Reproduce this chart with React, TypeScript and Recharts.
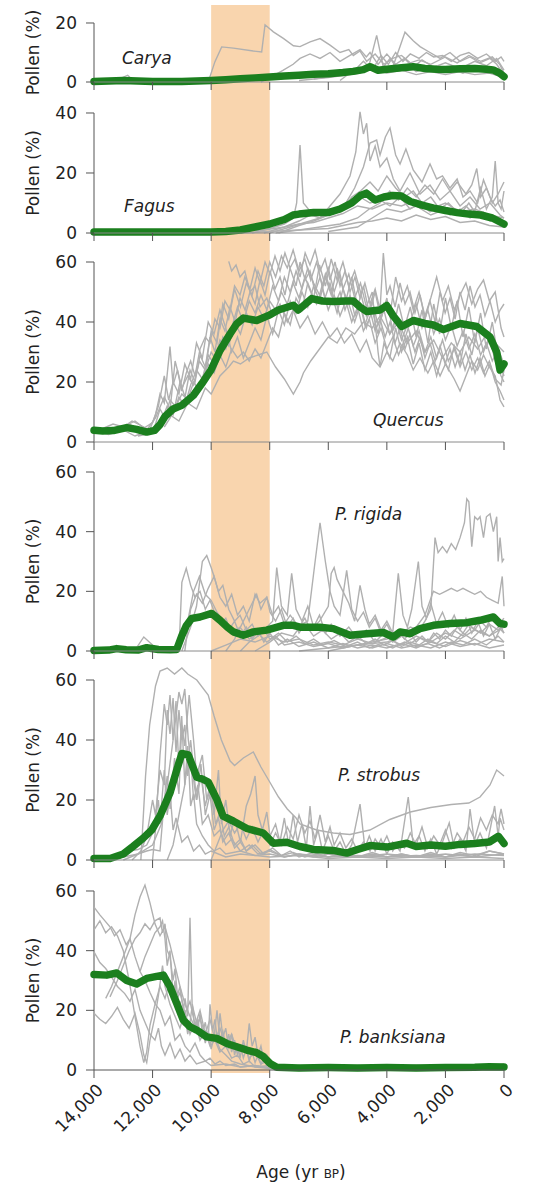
import { LineChart, Line, XAxis, YAxis, ReferenceArea, ReferenceLine, ReferenceDot } from 'recharts';

type Pt = [number, number];

const ageTicks = [14000, 12000, 10000, 8000, 6000, 4000, 2000, 0];
const bandAges = [10000, 8000];

// ---- Carya ----
const caryaMean: Pt[] = [
  [14000, 0.2], [13500, 0.3], [13000, 0.5], [12500, 0.3], [12000, 0.2], [11000, 0.2], [10500, 0.3],
  [10000, 0.5], [9500, 0.8], [9000, 1.1], [8500, 1.4], [8000, 1.7], [7500, 2.0], [7000, 2.3],
  [6500, 2.6], [6000, 2.8], [5500, 3.2], [5150, 3.6], [4800, 4.2], [4575, 5.2], [4300, 4.0],
  [4000, 4.3], [3500, 4.8], [3100, 5.2], [2700, 4.6], [2300, 4.3], [2000, 4.2], [1500, 4.5],
  [1000, 4.6], [600, 4.3], [370, 4.1], [150, 3.0], [0, 1.8],
];
const caryaSites: Pt[][] = [
  [[10100, 0], [9870, 6.9], [9640, 11.9], [9240, 11.5], [8560, 10.5], [8275, 10.2], [8160, 19.4], [7875, 17], [7535, 14.8], [7190, 12.3], [6965, 12], [6620, 13.6], [6282, 14.7], [5940, 12.5], [5600, 10], [5300, 11], [5145, 9], [4916, 10.5], [4690, 7], [4400, 9.5], [4100, 6], [3800, 8], [3500, 9], [3200, 6.5], [2900, 7.5], [2500, 6], [2000, 8.5], [1600, 6.5], [1200, 9], [800, 7], [400, 8.5], [150, 6], [0, 3]],
  [[8300, 0], [7900, 2], [7535, 4], [7200, 6], [6965, 8], [6624, 9.5], [6282, 8], [5941, 10], [5600, 7], [5258, 9], [4916, 11], [4700, 8.5], [4575, 10], [4300, 6], [4000, 9.5], [3700, 6], [3400, 8], [3100, 5], [2800, 7.5], [2400, 5], [2000, 6.5], [1500, 4.5], [1000, 7], [600, 5.5], [250, 8], [0, 4]],
  [[6500, 1], [5800, 2], [5200, 3.5], [4600, 4.5], [4100, 3.5], [3800, 5], [3550, 12], [3380, 16.9], [3100, 14], [2867, 12], [2526, 10], [2184, 8], [1843, 10], [1501, 7], [1160, 8.5], [818, 6.5], [477, 8], [250, 6], [0, 2.5]],
  [[7000, 0.5], [6000, 1.5], [5258, 2.5], [4916, 3], [4600, 6], [4348, 15.8], [4120, 5], [3892, 8], [3600, 4], [3300, 6], [3000, 3.5], [2600, 5], [2200, 3], [1800, 4.5], [1400, 3], [1000, 5], [600, 3.5], [200, 4.5], [0, 2]],
  [[14000, 0], [13300, 0.3], [12850, 2.3], [12650, 0.5], [12000, 0.2], [11000, 0.3], [10000, 0.4], [9000, 0.8], [8000, 1.2], [7000, 1.8], [6000, 2.2], [5000, 3], [4500, 4.5], [4000, 3], [3500, 4], [3000, 2.5], [2500, 3.5], [2000, 2.5], [1500, 3.5], [1000, 2.5], [500, 3], [0, 1.5]],
  [[5600, 0.5], [5000, 5], [4800, 7], [4500, 4], [4200, 9], [3950, 6], [3700, 10], [3450, 7], [3200, 9.5], [2900, 8], [2650, 10], [2400, 8.5], [2100, 9], [1800, 7], [1500, 9], [1200, 10], [900, 8], [600, 9.5], [300, 7], [100, 8.5], [0, 7]],
];

// ---- Fagus ----
const fagusMean: Pt[] = [
  [14000, 0.3], [13000, 0.3], [12000, 0.3], [11000, 0.3], [10000, 0.3], [9500, 0.5], [9000, 1.0],
  [8500, 2.0], [8000, 3.0], [7500, 4.5], [7200, 6.0], [7000, 6.3], [6500, 6.8], [6000, 6.8],
  [5600, 8.0], [5200, 10.0], [4900, 12.5], [4700, 13.3], [4400, 11.0], [4100, 12.0], [3800, 12.5],
  [3500, 12.3], [3200, 10.5], [2800, 9.3], [2400, 8.3], [2000, 7.5], [1600, 6.8], [1200, 6.3],
  [800, 6.0], [400, 5.0], [0, 3.0],
];
const fagusSites: Pt[][] = [
  [[8600, 0], [8000, 1.5], [7500, 3], [7190, 5], [7080, 10], [6965, 29.3], [6850, 10], [6600, 7], [6282, 6], [5941, 8], [5600, 7], [5258, 9], [4916, 12], [4575, 10], [4233, 11], [3892, 9], [3550, 12], [3209, 8], [2867, 10], [2526, 7], [2184, 9], [1843, 6], [1501, 8], [1160, 5], [818, 6.5], [477, 4], [135, 5], [0, 3]],
  [[8200, 0], [7500, 2], [7000, 4], [6600, 6], [6282, 5], [5941, 9], [5600, 13], [5258, 19], [5060, 27], [4916, 40.4], [4800, 33], [4690, 36.6], [4575, 24], [4400, 29], [4233, 22], [4000, 25], [3780, 18], [3550, 14], [3209, 20], [2867, 13], [2526, 16], [2184, 11], [1843, 14], [1501, 9], [1160, 12], [818, 8], [477, 10], [135, 6], [0, 5]],
  [[8000, 0], [7300, 2], [6800, 3.5], [6282, 5], [5800, 7], [5400, 10], [5100, 15], [4800, 22], [4575, 30], [4348, 31], [4233, 26], [4050, 32], [3892, 35], [3700, 26], [3550, 23], [3350, 28], [3100, 21], [2800, 17], [2526, 23], [2300, 18], [2100, 19], [1843, 15], [1600, 18], [1400, 12], [1160, 14], [900, 10], [700, 17.7], [477, 12], [300, 9], [135, 11], [0, 7]],
  [[7800, 0], [7000, 1], [6282, 2], [5600, 3], [5000, 5], [4600, 8], [4233, 10], [3900, 14], [3600, 11], [3300, 15], [3000, 12], [2700, 16], [2400, 13], [2100, 18], [1843, 14], [1600, 17], [1300, 13], [1100, 16], [930, 21.5], [800, 12], [600, 15], [400, 10], [200, 13], [0, 17]],
  [[7700, 0], [7000, 2.5], [6500, 4], [6000, 6], [5500, 8], [5200, 12], [4900, 14], [4575, 17], [4300, 14], [4000, 19], [3700, 15], [3400, 12], [3100, 14], [2800, 10], [2500, 12], [2200, 8], [1900, 10], [1600, 7], [1300, 9], [1000, 6], [700, 7], [400, 5], [0, 4]],
  [[9000, 0], [8000, 0.5], [7000, 1], [6000, 1.5], [5500, 2.5], [5000, 3.5], [4500, 4], [4000, 5], [3500, 4], [3000, 6], [2500, 4.5], [2000, 5.5], [1500, 3.5], [1000, 4], [500, 2.5], [0, 2]],
  [[6000, 0.5], [5000, 2], [4500, 5], [4000, 8], [3500, 7], [3000, 9], [2500, 6], [2000, 8], [1500, 6], [1200, 10], [1000, 7], [800, 15], [600, 8], [400, 12], [300, 24], [200, 10], [100, 8], [0, 14]],
  [[14000, 0.2], [12000, 0.2], [10000, 0.3], [9000, 0.6], [8200, 1], [7500, 2], [7000, 3], [6500, 3.5], [6000, 5], [5500, 6.5], [5000, 9], [4500, 8], [4000, 10], [3500, 9], [3000, 11], [2500, 8], [2000, 10], [1500, 7], [1000, 8], [500, 6], [0, 5]],
];

// ---- Quercus ----
const quercusMean: Pt[] = [
  [14000, 3.9], [13700, 3.7], [13340, 3.8], [12884, 4.8], [12542, 4.2], [12200, 3.3], [11930, 3.9],
  [11746, 5.8], [11576, 8.5], [11300, 11], [11005, 12.2], [10609, 15.5], [10322, 19.4], [10005, 24],
  [9697, 30.5], [9356, 36], [9128, 39.4], [8900, 41.3], [8445, 40.5], [8035, 42.2], [7705, 44],
  [7193, 45.6], [7023, 44], [6566, 47.8], [6200, 47], [5828, 46.8], [5400, 47], [5145, 47],
  [4916, 45], [4690, 43.5], [4233, 44], [4005, 45.5], [3778, 42], [3493, 38.5], [3095, 40.5],
  [2700, 39.5], [2412, 39], [2070, 37.5], [1501, 39.5], [932, 38.5], [477, 35], [250, 30],
  [135, 24], [0, 26],
];
const quercusSites: Pt[][] = [
  [[14000, 3], [13700, 4.5], [13350, 6], [13000, 5], [12700, 7], [12400, 5.5], [12100, 4], [11900, 9], [11746, 16], [11600, 13], [11405, 31.8], [11300, 19], [11150, 24], [11005, 17], [10850, 23], [10700, 27], [10550, 22], [10380, 31], [10200, 35], [10039, 33], [9870, 41], [9697, 38], [9530, 47], [9356, 44], [9200, 52], [9014, 49], [8850, 55], [8673, 51], [8500, 58], [8331, 53], [8160, 60], [7990, 56], [7820, 62], [7648, 57], [7480, 63], [7307, 58], [7140, 61], [6965, 55], [6790, 63], [6624, 59], [6450, 64], [6282, 57], [6110, 61], [5941, 54], [5770, 60], [5599, 52], [5430, 57], [5258, 50], [5090, 55], [4916, 48], [4750, 53], [4575, 46], [4400, 51], [4233, 44], [4120, 63], [4000, 49], [3892, 52], [3720, 45], [3550, 53], [3380, 46], [3209, 50], [3040, 43], [2867, 49], [2700, 41], [2526, 47], [2350, 40], [2184, 50], [2010, 43], [1843, 48], [1670, 41], [1501, 50], [1330, 44], [1160, 52], [990, 45], [818, 49], [650, 42], [477, 47], [300, 40], [135, 44], [0, 46]],
  [[14000, 4], [13500, 2.5], [13000, 4], [12600, 2], [12200, 3.5], [11930, 5], [11746, 11], [11576, 8], [11405, 14], [11234, 12], [11063, 20], [10892, 15], [10722, 24], [10550, 20], [10380, 29], [10200, 25], [10039, 35], [9870, 30], [9697, 41], [9530, 37], [9356, 45], [9180, 40], [9014, 48], [8840, 44], [8673, 50], [8500, 46], [8331, 54], [8160, 49], [7990, 57], [7820, 51], [7648, 55], [7480, 49], [7307, 58], [7100, 52], [6965, 60], [6790, 54], [6624, 57], [6450, 50], [6282, 55], [6110, 48], [5941, 53], [5770, 46], [5599, 50], [5430, 44], [5258, 49], [5090, 42], [4916, 46], [4750, 39], [4575, 44], [4400, 37], [4233, 41], [4060, 35], [3892, 40], [3720, 33], [3550, 38], [3380, 31], [3209, 36], [3040, 30], [2867, 35], [2700, 28], [2526, 33], [2350, 27], [2184, 32], [2010, 26], [1843, 31], [1670, 25], [1501, 30], [1330, 24], [1160, 29], [990, 23], [818, 28], [650, 22], [477, 26], [300, 20], [135, 17], [0, 14]],
  [[9400, 60.2], [9300, 57], [9150, 59], [9014, 55], [8850, 57], [8673, 50], [8500, 52], [8331, 45], [8100, 48], [7900, 42], [7648, 46], [7400, 40], [7200, 44], [6965, 38], [6700, 42], [6450, 36], [6200, 40], [5941, 35], [5700, 38], [5450, 33], [5200, 36], [4916, 30], [4700, 34], [4500, 28], [4233, 25], [4000, 30], [3800, 27], [3550, 33], [3300, 29], [3100, 24], [2867, 28], [2600, 23], [2400, 27], [2184, 22], [2000, 26], [1700, 21], [1501, 17], [1300, 22], [1100, 27], [900, 24], [700, 29], [500, 25], [300, 22], [135, 14], [0, 11.7]],
  [[12500, 2], [12000, 3], [11700, 6], [11400, 9], [11100, 7], [10800, 13], [10500, 11], [10200, 18], [10000, 16], [9700, 22], [9400, 25], [9240, 27], [9000, 26], [8700, 28], [8400, 29], [8100, 30], [7800, 25], [7500, 21], [7193, 16], [6965, 20], [6850, 23], [6600, 27], [6300, 31], [6000, 35], [5700, 33], [5400, 38], [5100, 36], [4800, 40], [4500, 38], [4233, 42], [3900, 36], [3600, 40], [3300, 33], [3000, 37], [2700, 30], [2400, 34], [2100, 28], [1800, 33], [1500, 30], [1200, 35], [900, 31], [600, 36], [300, 33], [0, 30]],
  [[13000, 5], [12600, 7], [12200, 4], [11900, 8], [11600, 15], [11400, 11], [11230, 27], [11000, 18], [10800, 22], [10600, 19], [10400, 27], [10200, 24], [10000, 37], [9800, 33], [9600, 46], [9400, 41], [9200, 51], [9000, 45], [8800, 53], [8600, 49], [8400, 57], [8200, 52], [8000, 60], [7800, 55], [7600, 62], [7400, 58], [7200, 64], [7000, 57], [6800, 61], [6600, 54], [6400, 60], [6200, 52], [6000, 58], [5800, 50], [5600, 56], [5400, 47], [5200, 55], [5000, 45], [4800, 52], [4600, 43], [4400, 50], [4200, 41], [4000, 48], [3800, 37], [3600, 46], [3400, 38], [3200, 45], [3000, 35], [2800, 44], [2600, 33], [2400, 46], [2200, 36], [2000, 48], [1800, 38], [1600, 47], [1400, 35], [1200, 45], [1000, 33], [800, 43], [600, 31], [400, 40], [200, 28], [0, 22]],
  [[12800, 6], [12400, 4], [12000, 6.5], [11800, 12], [11600, 22], [11450, 14], [11300, 20], [11100, 16], [10900, 26], [10700, 21], [10500, 33], [10300, 28], [10100, 40], [9900, 36], [9700, 44], [9500, 38], [9300, 30], [9100, 35], [8900, 28], [8700, 33], [8500, 38], [8300, 34], [8100, 42], [7900, 36], [7700, 44], [7500, 39], [7300, 47], [7100, 43], [6900, 50], [6700, 45], [6500, 52], [6300, 47], [6100, 55], [5900, 49], [5700, 58], [5500, 51], [5300, 56], [5100, 48], [4900, 53], [4700, 45], [4500, 50], [4300, 30], [4233, 25], [4100, 33], [3900, 28], [3700, 38], [3500, 30], [3300, 35], [3100, 26], [2900, 33], [2700, 24], [2500, 30], [2300, 22], [2100, 29], [1900, 24], [1700, 32], [1501, 26], [1300, 36], [1100, 29], [900, 38], [700, 30], [500, 35], [300, 27], [100, 22], [0, 20]],
  [[11900, 3], [11700, 7], [11500, 12], [11300, 9], [11100, 15], [10900, 12], [10700, 19], [10500, 24], [10300, 21], [10100, 29], [9900, 26], [9700, 34], [9500, 31], [9300, 38], [9100, 45], [8900, 40], [8700, 47], [8500, 43], [8300, 49], [8100, 44], [7900, 52], [7700, 47], [7500, 55], [7300, 50], [7100, 57], [6900, 51], [6700, 58], [6500, 53], [6300, 49], [6100, 56], [5900, 50], [5700, 43], [5500, 51], [5300, 46], [5100, 40], [4900, 46], [4700, 38], [4500, 44], [4300, 36], [4100, 46], [3900, 42], [3700, 55], [3500, 47], [3300, 52], [3100, 44], [2900, 50], [2700, 42], [2500, 48], [2300, 55], [2100, 47], [1900, 52], [1700, 44], [1500, 49], [1300, 53], [1100, 46], [900, 51], [700, 54], [500, 47], [300, 50], [100, 38], [0, 35]],
  [[10300, 20], [10100, 26], [9900, 23], [9700, 29], [9500, 25], [9300, 31], [9100, 28], [8900, 30], [8700, 27], [8500, 31], [8300, 28], [8100, 33], [7900, 38], [7700, 35], [7500, 43], [7300, 39], [7100, 48], [6900, 44], [6700, 53], [6500, 48], [6300, 59], [6100, 52], [5900, 61], [5700, 54], [5500, 60], [5300, 52], [5100, 57], [4900, 50], [4700, 42], [4500, 47], [4300, 39], [4100, 44], [3900, 36], [3700, 41], [3500, 34], [3300, 39], [3100, 32], [2900, 37], [2700, 30], [2500, 35], [2300, 28], [2100, 34], [1900, 27], [1700, 31], [1500, 25], [1300, 30], [1100, 24], [900, 28], [700, 23], [500, 27], [300, 21], [100, 19], [0, 24]],
  [[11600, 5], [11400, 8], [11200, 12], [11000, 16], [10800, 14], [10600, 20], [10400, 17], [10200, 24], [10000, 30], [9800, 27], [9600, 35], [9400, 32], [9200, 40], [9000, 36], [8800, 43], [8600, 39], [8400, 45], [8200, 41], [8000, 47], [7800, 44], [7600, 50], [7400, 46], [7200, 53], [7000, 48], [6800, 55], [6600, 50], [6400, 46], [6200, 51], [6000, 44], [5800, 49], [5600, 42], [5400, 47], [5200, 40], [5000, 45], [4800, 37], [4600, 41], [4400, 33], [4200, 38], [4000, 31], [3800, 35], [3600, 29], [3400, 34], [3200, 40], [3000, 46], [2800, 38], [2600, 44], [2400, 36], [2200, 41], [2000, 34], [1800, 39], [1600, 32], [1400, 37], [1200, 31], [1000, 36], [800, 29], [600, 33], [400, 27], [200, 31], [0, 26]],
];

// ---- P. rigida ----
const rigidaMean: Pt[] = [
  [14000, 0.2], [13500, 0.3], [13225, 0.8], [12900, 0.4], [12500, 0.3], [12200, 1.1], [11800, 0.5],
  [11400, 0.4], [11176, 0.5], [11005, 5], [10850, 8.5], [10665, 10.9], [10380, 11.4], [9983, 12.6],
  [9697, 10.3], [9450, 8], [9242, 6.4], [8901, 5.3], [8559, 6.4], [8104, 7], [7535, 8.6], [7193, 8.6],
  [6965, 8], [6282, 8], [5828, 7.5], [5258, 5.3], [4690, 5.8], [4120, 6.2], [3778, 4.7], [3550, 6.4],
  [3209, 5.8], [2867, 7.5], [2412, 8.6], [1843, 9.2], [1274, 9.5], [818, 10.3], [363, 11.4],
  [135, 9.2], [0, 9],
];
const rigidaSites: Pt[][] = [
  [[11100, 0], [11000, 23], [10850, 27.7], [10700, 22], [10550, 18], [10380, 20], [10200, 14], [10039, 17], [9850, 12], [9697, 9], [9500, 11], [9300, 6], [9014, 8], [8700, 4], [8400, 6], [8100, 3], [7800, 5], [7500, 2], [7000, 3], [6500, 1.5], [6000, 2.5], [5500, 1], [5000, 2], [4500, 1], [4000, 2.5], [3500, 1], [3000, 2], [2500, 1], [2000, 3], [1500, 1.5], [1000, 2.5], [500, 1], [0, 2]],
  [[11000, 0], [10700, 8], [10500, 15], [10300, 30], [10150, 32], [10000, 28], [9900, 25], [9750, 20], [9600, 22], [9400, 14], [9200, 10], [9014, 12], [8800, 7], [8600, 9], [8400, 5], [8200, 7], [7990, 4], [7700, 6], [7400, 3], [7100, 5], [6800, 2.5], [6500, 4], [6200, 2], [5800, 3.5], [5400, 1.5], [5000, 3], [4600, 1], [4200, 2.5], [3800, 1], [3400, 3], [3000, 1.5], [2600, 2.5], [2200, 1], [1800, 3], [1400, 2], [1000, 4], [600, 2], [200, 5], [0, 3]],
  [[10900, 0], [10700, 14], [10500, 19], [10300, 16], [10100, 21], [9900, 25], [9700, 18], [9500, 15], [9300, 19], [9100, 12], [8900, 15], [8700, 10], [8500, 19], [8331, 16], [8100, 18], [7990, 13], [7800, 10], [7600, 14], [7400, 8], [7200, 11], [7000, 6], [6800, 9], [6500, 5], [6200, 7], [5900, 4], [5600, 6], [5300, 3], [5000, 5], [4700, 2.5], [4400, 4], [4100, 2], [3800, 3.5], [3500, 1.5], [3200, 3], [2900, 2], [2600, 4], [2300, 2.5], [2000, 5], [1700, 3], [1400, 6], [1100, 4], [800, 7], [500, 5], [200, 8], [0, 6]],
  [[9000, 0], [8700, 3], [8400, 5], [8100, 8], [7900, 10], [7760, 28], [7600, 15], [7400, 12], [7250, 26], [7100, 14], [6900, 10], [6700, 15], [6500, 8], [6300, 12], [6100, 6], [5900, 9], [5600, 5], [5300, 8], [5000, 4], [4700, 7], [4400, 3], [4100, 6], [3800, 3], [3500, 5], [3200, 2.5], [2900, 4.5], [2600, 3], [2300, 6], [2000, 4], [1700, 7], [1400, 5], [1100, 8], [800, 6], [500, 9], [200, 7], [0, 9]],
  [[8500, 0], [8000, 3], [7600, 6], [7200, 5], [6900, 9], [6700, 10], [6450, 30], [6282, 43], [6100, 30], [5941, 20], [5800, 15], [5600, 12], [5372, 27], [5200, 14], [5000, 10], [4800, 13], [4600, 8], [4400, 11], [4200, 6], [4000, 9], [3800, 5], [3600, 7], [3400, 4], [3200, 6], [3000, 3], [2800, 5], [2600, 3], [2400, 6], [2200, 4], [2000, 7], [1800, 5], [1600, 8], [1400, 6], [1200, 9], [1000, 7], [800, 10], [600, 8], [400, 12], [200, 9], [0, 11]],
  [[9500, 0], [9200, 4], [9000, 8], [8800, 12], [8600, 16], [8445, 19], [8300, 14], [8100, 18], [7900, 12], [7700, 15], [7500, 9], [7300, 12], [7000, 8], [6800, 11], [6600, 7], [6300, 10], [6000, 15], [5900, 26], [5800, 28], [5700, 24], [5500, 20], [5300, 16], [5100, 10], [4916, 22], [4750, 14], [4600, 9], [4400, 12], [4200, 7], [4000, 10], [3800, 6], [3610, 26], [3450, 12], [3300, 8], [3150, 14], [2925, 30], [2800, 15], [2650, 11], [2500, 16], [2300, 9], [2100, 13], [1900, 8], [1700, 12], [1500, 7], [1300, 11], [1100, 6], [900, 10], [700, 5], [500, 9], [300, 4], [100, 8], [0, 6]],
  [[6000, 0], [5500, 1], [5000, 2], [4500, 3], [4000, 4], [3500, 6], [3200, 8], [2900, 7], [2700, 10], [2500, 14], [2355, 38], [2250, 33], [2100, 35], [1950, 33], [1800, 36], [1650, 34], [1500, 38], [1350, 43], [1270, 51], [1200, 50], [1100, 35], [1000, 45], [900, 44], [818, 45], [700, 38], [600, 45], [477, 46], [363, 40], [250, 45], [200, 30], [135, 38], [60, 30], [0, 31]],
  [[7000, 0], [6000, 1], [5000, 2], [4000, 3], [3500, 5], [3000, 8], [2700, 12], [2412, 20], [2200, 19], [2000, 20], [1800, 21], [1600, 20], [1400, 21], [1200, 20], [1000, 19], [800, 20], [600, 18], [400, 17], [200, 16], [60, 25], [0, 15]],
  [[10000, 0], [9500, 2], [9000, 4], [8500, 3], [8000, 5], [7500, 3], [7000, 4], [6500, 2], [6000, 3], [5500, 2], [5000, 4], [4500, 2.5], [4000, 4.5], [3500, 2], [3000, 5], [2500, 3], [2000, 6], [1500, 4], [1000, 7], [500, 5], [0, 8]],
  [[14000, 0], [13000, 0], [12600, 0.3], [12300, 4.7], [12000, 2], [11800, 0.5], [11500, 0.3], [11200, 0.5], [11000, 3], [10800, 10], [10600, 20], [10400, 25], [10200, 19], [10000, 17], [9800, 13], [9600, 10], [9400, 7], [9200, 10], [9000, 5], [8800, 8], [8600, 4], [8400, 7], [8200, 3], [8000, 6], [7700, 2], [7400, 4], [7000, 1.5], [6500, 3], [6000, 1], [5500, 2.5], [5000, 1], [4500, 2], [4000, 1], [3500, 2.5], [3000, 1], [2500, 3], [2000, 1.5], [1500, 3.5], [1000, 2], [500, 4], [0, 3]],
];

// ---- P. strobus ----
const strobusMean: Pt[] = [
  [14000, 0.5], [13450, 0.5], [13000, 2.0], [12670, 4.5], [12320, 7.3], [12030, 10.0], [11750, 14.6],
  [11400, 22.5], [11175, 30.0], [11000, 35.5], [10780, 35.0], [10490, 27.6], [10300, 27.0],
  [10100, 26.0], [9810, 20.3], [9590, 14.6], [9250, 13.0], [8780, 10.5], [8220, 9.0], [7880, 5.6],
  [7420, 5.9], [6970, 4.5], [6500, 3.5], [5830, 3.2], [5370, 2.3], [5000, 3.5], [4575, 4.8],
  [4000, 4.3], [3320, 5.6], [3000, 4.5], [2500, 5.0], [2000, 4.6], [1500, 5.2], [1000, 5.5],
  [500, 6.0], [190, 7.9], [0, 5.5],
];
const strobusSites: Pt[][] = [
  [[12400, 0], [12240, 28], [12100, 45], [11900, 58], [11746, 63], [11500, 64], [11250, 62], [11000, 64], [10800, 62], [10490, 60], [10100, 55], [9900, 48], [9650, 40], [9350, 33], [9200, 31.5], [8900, 34], [8560, 36], [8300, 31], [8000, 26], [7700, 21], [7400, 17], [7100, 14], [6965, 12], [6400, 10], [5830, 9], [5260, 8.5], [4580, 10], [3900, 13.5], [3200, 16], [2500, 17.5], [1800, 18.5], [1200, 19], [818, 21], [477, 25], [250, 30], [0, 28]],
  [[12000, 0], [11900, 10], [11746, 35], [11600, 52], [11500, 45], [11405, 55], [11300, 40], [11200, 53], [11100, 30], [11005, 48], [10900, 25], [10800, 38], [10700, 18], [10600, 22], [10495, 12], [10300, 8], [10100, 5], [9900, 3], [9700, 4], [9500, 2], [9000, 3], [8500, 1.5], [8000, 2], [7500, 1], [7000, 2], [6000, 1], [5000, 1.5], [4000, 1], [3000, 1.5], [2000, 1], [1000, 2], [0, 1.5]],
  [[12700, 0], [12400, 3], [12200, 8], [12000, 20], [11900, 15], [11746, 30], [11600, 25], [11500, 50], [11405, 42], [11300, 54], [11200, 36], [11100, 50], [11005, 40], [10900, 45], [10800, 28], [10700, 35], [10600, 20], [10450, 25], [10300, 12], [10100, 15], [9900, 8], [9700, 10], [9500, 5], [9300, 7], [9000, 3], [8700, 5], [8400, 2], [8000, 3], [7500, 1], [7000, 2], [6500, 1], [6000, 2], [5000, 1], [4000, 2], [3000, 1], [2000, 2], [1000, 1], [0, 2]],
  [[13000, 0], [12500, 2], [12000, 5], [11700, 12], [11500, 25], [11300, 40], [11100, 56], [11000, 52], [10900, 57], [10780, 40], [10650, 30], [10500, 20], [10350, 32], [10200, 15], [10039, 22], [9900, 10], [9750, 14], [9600, 6], [9400, 9], [9200, 4], [9000, 6], [8800, 3], [8500, 5], [8200, 2], [7900, 4], [7600, 1.5], [7300, 3], [7000, 1], [6500, 2.5], [6000, 1], [5500, 2], [5000, 1], [4500, 2.5], [4000, 1], [3500, 2], [3000, 1], [2500, 2.5], [2000, 1], [1500, 2], [1000, 1], [500, 3], [0, 2]],
  [[11500, 0], [11300, 5], [11100, 15], [10900, 25], [10700, 40], [10600, 30], [10495, 20], [10350, 28], [10200, 18], [10039, 25], [9900, 15], [9750, 30], [9650, 12], [9500, 20], [9350, 8], [9200, 14], [9000, 6], [8800, 18], [8650, 22], [8500, 28], [8400, 15], [8250, 10], [8100, 16], [7990, 8], [7800, 12], [7650, 6], [7500, 14], [7350, 5], [7200, 15], [7050, 6], [6900, 12], [6750, 4], [6624, 18], [6500, 5], [6350, 10], [6200, 3], [6000, 8], [5800, 3], [5600, 6], [5400, 2], [5200, 5], [4916, 18.6], [4750, 4], [4600, 8], [4400, 3], [4200, 7], [4000, 2], [3800, 6], [3550, 3], [3270, 21], [3100, 5], [2900, 8], [2700, 3], [2500, 7], [2300, 2], [2100, 6], [1870, 12.4], [1700, 4], [1500, 7], [1300, 3], [1160, 17], [1000, 5], [818, 9], [600, 4], [477, 10], [320, 18], [200, 8], [135, 14], [0, 10]],
  [[13500, 0], [13000, 1], [12500, 2], [12200, 3], [12000, 3.5], [11746, 3], [11600, 20], [11500, 28], [11400, 17], [11250, 34], [11100, 22], [11005, 45], [10900, 38], [10750, 55], [10600, 40], [10495, 28], [10300, 35], [10150, 20], [10000, 24], [9850, 12], [9697, 16], [9550, 8], [9400, 11], [9200, 5], [9000, 7], [8800, 3], [8600, 5], [8300, 2], [8000, 3.5], [7600, 1.5], [7200, 2.5], [6800, 1], [6400, 2], [6000, 1], [5500, 2], [5000, 1], [4500, 2], [4000, 1], [3500, 2], [3000, 1], [2500, 2], [2000, 1], [1500, 2.5], [1000, 1.5], [500, 3], [0, 2]],
  [[10000, 0], [9800, 5], [9600, 10], [9400, 13], [9200, 9], [9000, 12], [8800, 7], [8600, 11], [8400, 6], [8200, 10], [7990, 5], [7800, 9], [7600, 5], [7400, 11], [7200, 7], [7000, 15], [6800, 9], [6624, 13], [6450, 7], [6282, 15], [6100, 6], [5941, 11], [5800, 5], [5600, 9], [5400, 4], [5200, 7], [5000, 3], [4800, 6], [4575, 3], [4400, 7], [4200, 4], [4000, 8], [3800, 3], [3600, 6], [3400, 4], [3200, 9], [3000, 5], [2800, 11], [2600, 4], [2400, 8], [2200, 5], [2000, 10], [1800, 4], [1600, 9], [1400, 6], [1200, 11], [1000, 7], [800, 14], [600, 10], [400, 15], [200, 12], [100, 17], [0, 12]],
  [[14000, 0], [13600, 0.5], [13200, 1.5], [12800, 3], [12500, 3.5], [12200, 5], [12000, 9], [11800, 20], [11746, 12], [11600, 30], [11500, 15], [11400, 22], [11300, 10], [11200, 14], [11000, 6], [10800, 8], [10600, 3], [10400, 5], [10200, 2], [10000, 3], [9500, 1], [9000, 2], [8000, 1], [7000, 1.5], [6000, 0.5], [5000, 1], [4000, 0.5], [3000, 1], [2000, 0.5], [1000, 1], [0, 0.5]],
];

// ---- P. banksiana ----
const banksianaMean: Pt[] = [
  [14000, 32], [13566, 31.8], [13225, 32.5], [12884, 30], [12542, 28.8], [12200, 30.7], [11859, 31.4],
  [11632, 31.8], [11405, 27.9], [11176, 22.3], [10950, 16.7], [10722, 14.5], [10495, 13.4],
  [10153, 11.1], [9810, 10.6], [9469, 8.9], [9128, 7.8], [8786, 6.7], [8445, 5.8], [8218, 4.5],
  [7990, 2.2], [7760, 0.9], [7000, 0.7], [6000, 0.8], [5000, 0.7], [4000, 0.8], [3000, 0.7],
  [2000, 0.8], [1000, 0.9], [500, 1.1], [0, 1],
];
const banksianaSites: Pt[][] = [
  [[14000, 54.6], [13800, 52], [13454, 48], [13300, 45], [13112, 47], [12900, 42], [12771, 44], [12600, 38], [12429, 33], [12260, 30], [12088, 26], [11900, 22], [11746, 20], [11576, 15], [11405, 18], [11234, 10], [11063, 12], [10892, 8], [10722, 6], [10550, 9], [10380, 5], [10200, 3], [10039, 4], [9870, 2], [9700, 3], [9500, 1.5], [9200, 2], [9000, 1], [8500, 1.5], [8000, 0.8], [7500, 0.5], [6500, 0.8], [5500, 0.5], [4500, 1], [3500, 0.6], [2500, 1], [1500, 0.6], [500, 1], [0, 0.8]],
  [[13600, 24], [13400, 28], [13200, 33], [13000, 38], [12771, 44], [12600, 52], [12429, 58], [12260, 62], [12088, 56], [11918, 49], [11746, 45], [11576, 48], [11405, 42], [11234, 35], [11063, 28], [10892, 22], [10722, 18], [10550, 14], [10380, 17], [10200, 12], [10039, 9], [9870, 11], [9700, 7], [9500, 5], [9300, 3], [9000, 2], [8500, 1], [8000, 0.5], [7000, 0.8], [6000, 0.5], [5000, 0.8], [4000, 1], [3000, 0.6], [2000, 0.8], [1000, 0.6], [0, 1]],
  [[14000, 39.6], [13800, 36], [13600, 34], [13454, 32], [13200, 28], [12950, 25.6], [12771, 23], [12600, 27], [12429, 20], [12260, 16], [12088, 12], [11918, 10], [11800, 14], [11700, 8], [11576, 5], [11405, 9], [11234, 4], [11063, 7], [10892, 3], [10722, 5], [10500, 2], [10200, 3], [10000, 1.5], [9500, 2], [9000, 1], [8500, 1.5], [8000, 0.5], [7000, 0.8], [6000, 0.5], [5000, 0.8], [4000, 0.5], [3000, 1], [2000, 0.6], [1000, 1], [0, 0.5]],
  [[14000, 19], [13800, 17], [13600, 15.6], [13400, 18], [13200, 21], [13000, 17], [12800, 14], [12600, 19], [12429, 12], [12300, 5], [12200, 2.5], [12088, 10], [11918, 18], [11800, 25], [11660, 35], [11576, 28], [11405, 22], [11234, 18], [11063, 14], [10892, 20], [10722, 12], [10550, 16], [10380, 10], [10200, 13], [10039, 8], [9870, 10], [9700, 6], [9500, 8], [9300, 4], [9100, 5], [8900, 2], [8700, 3], [8500, 1], [8000, 1.5], [7500, 0.5], [6500, 1], [5500, 0.5], [4500, 1.5], [3500, 0.8], [2500, 1], [1500, 0.5], [500, 1.5], [0, 1]],
  [[13454, 24.5], [13200, 30], [13000, 35], [12800, 40], [12600, 44], [12429, 46], [12260, 49], [12088, 47], [11918, 50], [11746, 51], [11660, 46], [11576, 49], [11500, 40], [11405, 38], [11300, 30], [11234, 34], [11150, 25], [11063, 28], [10950, 20], [10892, 24], [10800, 18], [10722, 51], [10650, 22], [10550, 18], [10450, 14], [10380, 19], [10300, 12], [10200, 16], [10100, 10], [10039, 22], [9950, 13], [9870, 17], [9780, 9], [9697, 19], [9600, 11], [9500, 14], [9400, 7], [9300, 12], [9200, 5], [9100, 9], [9014, 4], [8900, 10], [8800, 6], [8700, 15.6], [8600, 8], [8500, 11], [8400, 5], [8300, 8], [8200, 3], [8100, 5], [7990, 1.5], [7800, 2], [7600, 0.8], [7000, 1.2], [6000, 0.6], [5000, 1.5], [4000, 0.8], [3000, 1.6], [2000, 0.7], [1000, 1.2], [0, 1.8]],
  [[12429, 33], [12260, 38], [12088, 42], [11918, 46], [11746, 48], [11660, 50], [11576, 44], [11500, 35], [11405, 40], [11300, 25], [11234, 30], [11150, 20], [11063, 23], [10950, 15], [10892, 18], [10800, 12], [10722, 16], [10640, 22], [10550, 13], [10450, 17], [10380, 11], [10300, 14], [10200, 9], [10100, 13], [10000, 7], [9900, 11], [9800, 20], [9700, 10], [9600, 13], [9500, 8], [9400, 12], [9300, 6], [9200, 10], [9100, 5], [9000, 8], [8900, 4], [8800, 7], [8700, 3], [8600, 6], [8500, 2.5], [8400, 5], [8300, 2], [8200, 4], [8100, 1.5], [8000, 3], [7900, 1], [7500, 0.5], [6500, 1], [5500, 0.4], [4500, 1.2], [3500, 0.5], [2500, 1], [1500, 0.5], [500, 1.5], [0, 0.8]],
  [[14000, 47], [13800, 50], [13600, 46], [13400, 48], [13200, 45], [13000, 40], [12800, 30], [12600, 18], [12429, 8], [12300, 2.5], [12200, 6], [12088, 15], [11918, 22], [11746, 28], [11576, 24], [11405, 30], [11234, 22], [11063, 26], [10892, 19], [10722, 23], [10550, 15], [10380, 20], [10200, 12], [10039, 17], [9870, 10], [9697, 14], [9500, 8], [9300, 12], [9100, 6], [8900, 9], [8700, 4], [8500, 6], [8300, 2], [8100, 3], [7900, 1], [7500, 0.5], [7000, 1.5], [6500, 0.8], [6000, 1.2], [5500, 0.5], [5000, 1], [4500, 0.5], [4000, 1.5], [3500, 0.8], [3000, 1.2], [2500, 0.5], [2000, 1], [1500, 0.6], [1000, 1.4], [500, 0.7], [0, 2]],
];

const FONT = 'DejaVu Sans';
const TEXT = '#222';
const AXIS = '#555';
const GREY = '#b0b0b0';
const GREEN = '#1b7f1e';
const BAND = '#f9d5ae';

type Panel = {
  taxon: string;
  mean: Pt[];
  sites: Pt[][];
  yTicks: number[];
  labelAt: Pt;
  height: number;
  axisH: number;
  domTop: number;
};

const panels: Panel[] = [
  { taxon: 'Carya', mean: caryaMean, sites: caryaSites, yTicks: [0, 20], labelAt: [13044, 8.3], height: 92, axisH: 15, domTop: 26.1 },
  { taxon: 'Fagus', mean: fagusMean, sites: fagusSites, yTicks: [0, 20, 40], labelAt: [12975, 9], height: 150, axisH: 14, domTop: 45.33 },
  { taxon: 'Quercus', mean: quercusMean, sites: quercusSites, yTicks: [0, 20, 40, 60], labelAt: [4472, 7.3], height: 210, axisH: 15, domTop: 65 },
  { taxon: 'P. rigida', mean: rigidaMean, sites: rigidaSites, yTicks: [0, 20, 40, 60], labelAt: [5770, 45.8], height: 208, axisH: 14, domTop: 65.03 },
  { taxon: 'P. strobus', mean: strobusMean, sites: strobusSites, yTicks: [0, 20, 40, 60], labelAt: [5667, 28.5], height: 210, axisH: 15, domTop: 65 },
  { taxon: 'P. banksiana', mean: banksianaMean, sites: banksianaSites, yTicks: [0, 20, 40, 60], labelAt: [5600, 11], height: 308, axisH: 113, domTop: 65.36 },
];

function buildRows(mean: Pt[], sites: Pt[][]) {
  const map = new Map<number, Record<string, number>>();
  const put = (key: string, pts: Pt[]) =>
    pts.forEach(([age, v]) => {
      const row = map.get(age) ?? { age };
      row[key] = v;
      map.set(age, row);
    });
  sites.forEach((s, i) => put(`s${i}`, s));
  put('mean', mean);
  return [...map.values()].sort((a, b) => b.age - a.age);
}

const fmtAge = (v: number) => String(v).replace(/\B(?=(\d{3})+(?!\d))/g, ',');

function AgeTick(props: any) {
  const { x, y, payload } = props;
  const px = x + 6;
  const py = y + 7;
  return (
    <text x={px} y={py} dy="0.35em" textAnchor="end" fontSize={17} fontFamily={FONT} fill={TEXT}
      transform={`rotate(-45, ${px}, ${py})`}>
      {fmtAge(payload.value)}
    </text>
  );
}

const NoTick = () => <g />;

const pollenLabel = (yMax: number, domTop: number) => (props: any) => {
  const vb = props.viewBox ?? { x: 0, y: 0, width: 94, height: 0 };
  const zero = vb.y + vb.height;
  const top = vb.y + vb.height * (1 - yMax / domTop);
  const cy = (zero + top) / 2;
  const cx = vb.x + 39;
  return (
    <text x={cx} y={cy} textAnchor="middle" fontSize={17} fontFamily={FONT} fill={TEXT}
      transform={`rotate(-90, ${cx}, ${cy})`}>
      Pollen (%)
    </text>
  );
};

const ageTitle = (props: any) => {
  const vb = props.viewBox ?? { x: 94, y: 0, width: 410, height: 113 };
  const cx = vb.x + vb.width / 2 + 2;
  const cy = vb.y + 108;
  return (
    <text x={cx} y={cy} textAnchor="middle" fontSize={17} fontFamily={FONT} fill={TEXT}>
      Age (yr <tspan fontSize={12}>BP</tspan>)
    </text>
  );
};

function PanelChart({ p, last }: { p: Panel; last: boolean }) {
  const rows = buildRows(p.mean, p.sites);
  const plotH = p.height - p.axisH;
  const yMax = p.yTicks[p.yTicks.length - 1];
  const bandLow = last ? -1 : -(p.axisH / plotH) * p.domTop;
  return (
    <LineChart width={534} height={p.height} data={rows} margin={{ top: 0, right: 30, bottom: 0, left: 0 }}>
      <ReferenceArea x1={bandAges[0]} x2={bandAges[1]} y1={bandLow} y2={p.domTop} fill={BAND} fillOpacity={1}
        stroke="none" ifOverflow="visible" />
      <XAxis dataKey="age" type="number" domain={[0, 14000]} reversed ticks={ageTicks} interval={0}
        height={p.axisH} tickSize={8} axisLine={{ stroke: last ? AXIS : '#8a8a8a' }} tickLine={{ stroke: AXIS }}
        tick={last ? AgeTick : NoTick} label={last ? ageTitle : undefined} />
      <YAxis type="number" domain={[0, p.domTop]} ticks={p.yTicks} interval={0} width={94} tickSize={8}
        tickMargin={9} axisLine={false} tickLine={{ stroke: AXIS }}
        tick={{ fill: TEXT, fontSize: 17, fontFamily: FONT }} label={pollenLabel(yMax, p.domTop)} />
      <ReferenceLine segment={[{ x: 14000, y: 0 }, { x: 14000, y: yMax }]} stroke={AXIS} ifOverflow="visible" />
      {p.sites.map((_, i) => (
        <Line key={i} dataKey={`s${i}`} type="linear" connectNulls stroke={GREY} strokeWidth={1.4}
          dot={false} activeDot={false} isAnimationActive={false} />
      ))}
      <Line dataKey="mean" type="linear" connectNulls stroke={GREEN} strokeWidth={7.5} strokeLinejoin="round"
        strokeLinecap="round" dot={false} activeDot={false} isAnimationActive={false} />
      <ReferenceDot x={p.labelAt[0]} y={p.labelAt[1]} r={0} fill="none" stroke="none" ifOverflow="visible"
        label={{ value: p.taxon, position: 'right', offset: 0, fontSize: 17, fontStyle: 'italic', fill: TEXT, fontFamily: FONT }} />
    </LineChart>
  );
}

export default function App() {
  return (
    <div style={{ position: 'absolute', left: 0, top: 0, width: 534, paddingTop: 5, fontFamily: FONT, background: '#fff' }}>
      {panels.map((p, i) => (
        <PanelChart key={p.taxon} p={p} last={i === panels.length - 1} />
      ))}
    </div>
  );
}
